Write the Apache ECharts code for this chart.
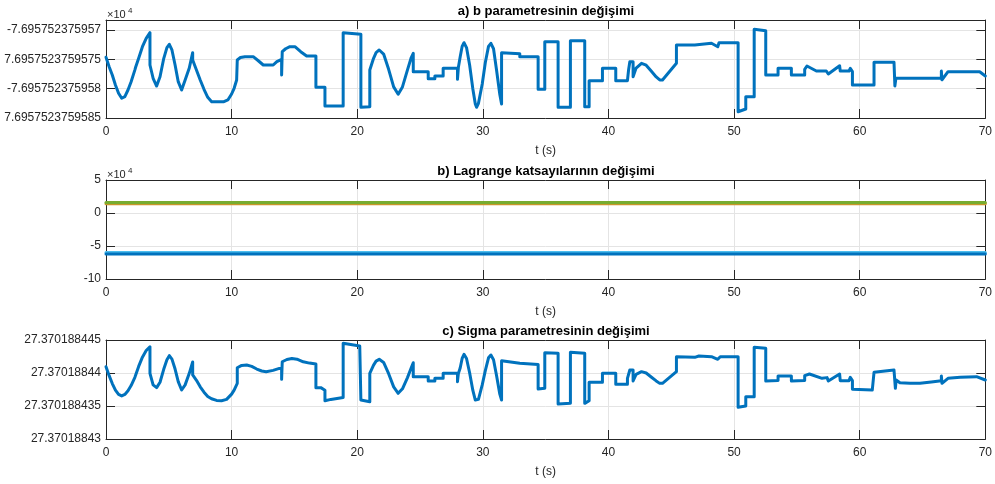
<!DOCTYPE html>
<html><head><meta charset="utf-8">
<script src="https://cdn.jsdelivr.net/npm/echarts@6/dist/echarts.min.js"></script>
<style>html,body{margin:0;padding:0;background:#fff}#c{width:995px;height:484px}</style>
</head><body><div id="c"></div>
<script>
// ---- Data ----
const timeRange = [0, 70];
const timeTickStep = 10;

// a) b parameter: offsets in units of 1e-6 above -7.6957523759585e4
const bParamTickLabels = ['7.6957523759585', '-7.695752375958', '7.6957523759575', '-7.695752375957'];
const bParamSeries = [
  [0,10.35],[0.25,8.74],[0.5,7.33],[0.75,5.62],[1.0,4.21],[1.25,3.36],[1.5,3.63],[1.75,4.77],[2.0,6.19],[2.3,8.2],
  [2.35,8.6],[2.6,10.17],[2.9,12.15],[3.2,13.58],[3.5,14.54],[3.5,9.03],[3.75,6.77],[4.03,5.45],[4.3,7.04],[4.6,10.17],
  [4.85,11.98],[5.04,12.56],[5.25,11.59],[5.5,9.03],[5.75,6.19],[6.02,4.77],[6.3,6.48],[6.63,8.52],[6.9,11.13],[6.9,9.89],
  [7.2,8.18],[7.5,6.48],[7.8,4.89],[8.1,3.53],[8.41,2.78],[9.39,2.78],[9.7,3.07],[10.0,4.09],[10.2,5.06],[10.4,6.48],
  [10.45,9.89],[10.7,10.3],[11.06,10.45],[11.72,10.45],[12.1,9.8],[12.52,9.03],[13.31,9.03],[13.6,9.6],[13.98,10.0],[13.98,7.33],
  [14.03,11.3],[14.3,11.8],[14.64,12.15],[15.04,12.15],[15.5,11.3],[15.97,10.57],[16.71,10.57],
  [16.71,5.23],[17.43,5.23],[17.43,2.05],[18.88,2.05],[18.88,14.54],[20.29,14.27],[20.29,1.82],[21.0,1.93],[21.0,8.18],[21.3,10.17],
  [21.5,11.13],[21.75,11.59],[22.1,10.9],[22.5,8.3],[22.9,5.3],[23.26,4.04],[23.6,5.3],[24.0,8.2],[24.3,10.3],[24.46,11.03],
  [24.46,7.89],[25.65,7.89],[25.65,6.7],[26.18,6.7],
  [26.18,7.16],[26.84,7.16],[26.84,8.47],[27.98,8.47],[27.98,6.6],[28.05,8.6],[28.2,10.5],[28.35,12.2],[28.5,12.83],[28.7,12.0],
  [28.95,9.0],[29.2,5.0],[29.4,2.4],[29.5,1.82],[29.65,2.5],[29.95,5.8],[30.2,9.5],[30.45,12.2],[30.64,12.73],[30.85,11.8],
  [31.1,8.0],[31.35,4.0],[31.49,2.39],[31.49,11.13],[32.94,10.96],[32.94,10.45],[34.4,10.45],
  [34.4,4.89],[34.93,4.89],[34.93,13.0],[35.99,13.0],[35.99,1.82],[36.97,1.82],[36.97,13.18],[38.11,13.18],[38.11,1.93],[38.46,1.93],
  [38.46,6.36],[39.52,6.36],[39.52,8.47],[40.58,8.47],[40.58,6.36],[41.51,6.36],[41.6,8.18],[41.7,9.6],[41.96,9.6],[41.96,7.04],
  [42.2,8.5],[42.63,9.32],[43.0,9.0],[43.4,8.0],[43.8,7.0],[44.08,6.48],[44.3,6.48],[45.41,9.32],[45.41,12.44],[46.87,12.44],[46.87,12.73],[48.2,12.73],
  [48.7,12.15],[48.8,12.83],[50.32,12.83],[50.32,1.07],[50.93,1.53],[50.93,3.63],[51.6,3.63],[51.6,15.12],[52.52,14.88],[52.52,7.33],
  [53.5,7.33],[53.5,8.47],[54.56,8.47],[54.56,7.33],[55.62,7.33],[55.62,8.3],[55.8,8.86],[56.55,8.01],[57.34,8.01],[57.5,7.5],
  [58.4,8.91],[58.45,8.01],[59.15,8.01],[59.25,8.47],[59.42,7.9],[59.42,5.62],[61.14,5.62],[61.14,9.49],[62.73,9.49],[62.8,5.45],
  [62.88,6.77],[66.5,6.77],[66.5,8.0],[66.55,6.5],[67.03,7.89],[69.55,7.89],[70,7.16]
];

// b) Lagrange multipliers (x 10^4)
const lagrangeTickValues = [-10, -5, 0, 5];
const lagrangeBlue = [[0,-6.2],[70,-6.2]];
const lagrangeCyan = [[0,-6.0],[70,-6.0]];
const lagrangeYellow = [[0,1.42],[70,1.42]];
const lagrangeGreen = [[0,1.6],[70,1.6]];

// c) Sigma parameter: offsets in units of 1e-9 above 27.37018843
const sigmaTickLabels = ['27.37018843', '27.370188435', '27.37018844', '27.370188445'];
const sigmaSeries = [
  [0,10.95],[0.25,9.6],[0.5,8.4],[0.75,7.4],[1.0,6.75],[1.25,6.52],[1.5,6.75],[1.75,7.3],[2.0,8.1],[2.3,9.35],
  [2.35,9.6],[2.6,11.0],[2.9,12.4],[3.2,13.4],[3.5,13.98],[3.5,9.95],[3.75,8.2],[4.03,7.78],[4.3,8.6],[4.6,10.6],
  [4.85,12.0],[5.04,12.63],[5.25,12.1],[5.5,10.6],[5.75,8.7],[6.02,7.42],[6.3,8.2],[6.63,9.95],[6.9,11.67],[6.9,9.7],
  [7.2,8.9],[7.5,7.9],[7.8,7.1],[8.1,6.45],[8.4,6.1],[8.8,5.85],[9.2,5.8],[9.6,6.0],[10.0,6.8],[10.2,7.4],
  [10.45,8.43],[10.45,10.8],[10.8,11.15],[11.2,11.21],[11.6,11.0],[12.0,10.6],[12.4,10.3],[12.75,10.2],[13.3,10.4],[13.8,10.7],
  [13.98,10.7],[13.98,9.04],[14.03,11.7],[14.4,12.05],[14.8,12.2],[15.2,12.1],[15.7,11.7],[16.2,11.5],[16.71,11.36],[16.71,7.78],
  [17.1,7.78],[17.43,7.4],[17.43,5.8],[17.9,6.0],[18.88,6.3],[18.88,14.5],[20.2,14.1],[20.29,5.9],[21.0,5.65],[21.0,9.95],
  [21.3,11.2],[21.5,11.8],[21.75,12.07],[22.1,11.6],[22.5,9.9],[22.9,7.9],[23.26,6.92],[23.6,7.6],[24.0,9.3],[24.3,10.8],
  [24.46,11.56],[24.46,9.44],[25.65,9.44],[25.65,8.79],[26.18,8.79],
  [26.18,9.19],[26.84,9.19],[26.84,9.95],[27.98,9.95],[27.98,8.68],[28.05,9.9],[28.2,10.8],[28.35,12.2],[28.5,12.83],[28.7,12.2],
  [28.95,10.0],[29.2,7.4],[29.4,5.9],[29.5,5.65],[29.65,6.0],[29.95,8.2],[30.2,10.4],[30.45,12.3],[30.64,12.73],[30.85,12.0],
  [31.1,9.5],[31.35,6.8],[31.49,5.9],[31.49,11.87],[32.94,11.47],[34.4,11.3],[34.4,7.58],
  [34.93,7.7],[34.93,13.08],[35.99,13.0],[35.99,5.3],[36.97,5.4],[36.97,13.13],[38.11,13.0],[38.11,5.4],[38.46,5.8],[38.46,8.59],
  [39.52,8.59],[39.52,9.95],[40.58,9.95],[40.58,8.28],[41.51,8.28],[41.51,9.19],[41.7,10.45],[41.96,10.45],[41.96,8.79],[42.2,9.8],
  [42.63,10.2],[43.0,10.0],[43.4,9.4],[43.8,8.8],[44.08,8.43],[44.3,8.43],[45.41,10.2],[45.41,12.47],[46.87,12.37],[47.2,12.58],[48.2,12.47],[48.7,12.07],
  [48.9,12.47],[50.32,12.47],[50.32,4.8],[50.93,5.0],[50.93,6.4],[51.6,6.4],[51.6,13.89],[52.52,13.74],[52.52,8.79],[53.5,8.85],
  [53.5,9.55],[54.56,9.55],[54.56,8.79],[55.62,8.85],[55.62,9.6],[56.0,9.85],[57.0,9.19],[57.4,9.3],[57.5,8.79],[58.4,9.85],
  [58.45,8.84],[59.15,8.84],[59.25,9.34],[59.42,8.84],[59.42,7.53],[61.0,7.42],[61.14,10.1],[62.73,10.45],[62.84,7.68],[62.9,8.94],
  [63.2,8.53],[64.0,8.43],[64.8,8.43],[65.7,8.65],[66.5,8.84],[66.5,9.55],[66.55,8.43],[67.03,9.19],[68.0,9.34],[69.3,9.44],[70,8.94]
];

const titles = ['a) b parametresinin değişimi', 'b) Lagrange katsayılarının değişimi', 'c) Sigma parametresinin değişimi'];
const xAxisName = 't (s)';

// ---- Chart ----
const FONT = '"Liberation Sans", Arial, Helvetica, sans-serif';
const AX = '#262626';
const GRIDC = '#e4e4e4';
const grids = [
  {left: 106, top: 20, width: 880, height: 98},
  {left: 106, top: 180, width: 880, height: 99},
  {left: 106, top: 340, width: 880, height: 99}
];

function labelFrom(arr, step) {
  return function (v) {
    const i = Math.round(v / step);
    return (Math.abs(v - i * step) < 1e-6 && arr[i] !== undefined) ? arr[i] : '';
  };
}

const xAxes = [], yAxes = [];
const yDefs = [
  {min: 0, max: 16.7, fmt: labelFrom(bParamTickLabels, 5)},
  {min: -10, max: 5, fmt: function (v) { return lagrangeTickValues.indexOf(v) >= 0 ? String(v) : ''; }},
  {min: 0, max: 15, fmt: labelFrom(sigmaTickLabels, 5)}
];
grids.forEach(function (g, i) {
  const common = {
    type: 'value', gridIndex: i, min: timeRange[0], max: timeRange[1], interval: timeTickStep,
    axisLine: {show: true, onZero: false, lineStyle: {color: AX, width: 1}},
    axisTick: {show: true, inside: true, length: 9, lineStyle: {color: AX}}
  };
  xAxes.push(Object.assign({}, common, {
    position: 'bottom',
    axisLabel: {color: AX, fontSize: 12, fontFamily: FONT, margin: 8},
    splitLine: {show: true, lineStyle: {color: GRIDC, width: 1}},
    name: xAxisName, nameLocation: 'middle', nameGap: 27,
    nameTextStyle: {color: AX, fontSize: 12, fontFamily: FONT}
  }));
  xAxes.push(Object.assign({}, common, {
    position: 'top', axisLabel: {show: false}, splitLine: {show: false}
  }));
  const yc = {
    type: 'value', gridIndex: i, min: yDefs[i].min, max: yDefs[i].max, interval: 5,
    axisLine: {show: true, onZero: false, lineStyle: {color: AX, width: 1}},
    axisTick: {show: true, inside: true, length: 9, lineStyle: {color: AX}}
  };
  yAxes.push(Object.assign({}, yc, {
    position: 'left',
    axisLabel: {color: AX, fontSize: 12, fontFamily: FONT, margin: 5, formatter: yDefs[i].fmt, showMaxLabel: true},
    splitLine: {show: true, lineStyle: {color: GRIDC, width: 1}}
  }));
  yAxes.push(Object.assign({}, yc, {
    position: 'right', axisLabel: {show: false}, splitLine: {show: false}
  }));
});

function lineSeries(data, grid, color, width) {
  return {
    type: 'line', data: data, xAxisIndex: grid * 2, yAxisIndex: grid * 2,
    showSymbol: false, symbol: 'none', animation: false, z: 3,
    lineStyle: {color: color, width: width, cap: 'round', join: 'round'}
  };
}

const series = [
  lineSeries(bParamSeries, 0, '#0072BD', 3),
  lineSeries(lagrangeCyan, 1, '#4DBEEE', 3),
  lineSeries(lagrangeBlue, 1, '#0072BD', 3),
  lineSeries(lagrangeYellow, 1, '#C9962A', 3),
  lineSeries(lagrangeGreen, 1, '#77AC30', 3),
  lineSeries(sigmaSeries, 2, '#0072BD', 3)
];

const graphic = [];
titles.forEach(function (t, i) {
  graphic.push({type: 'text', x: 546, y: grids[i].top - 9, z: 10,
    style: {text: t, font: 'bold 13px ' + FONT, fill: '#000', align: 'center', verticalAlign: 'middle', textAlign: 'center', textVerticalAlign: 'middle'}});
});
[0, 1].forEach(function (i) {
  graphic.push({type: 'text', x: 107, y: grids[i].top - 5, z: 10,
    style: {text: '×10', font: '11px ' + FONT, fill: AX, align: 'left', verticalAlign: 'middle', textAlign: 'left', textVerticalAlign: 'middle'}});
  graphic.push({type: 'text', x: 128, y: grids[i].top - 9, z: 10,
    style: {text: '4', font: '8px ' + FONT, fill: AX, align: 'left', verticalAlign: 'middle', textAlign: 'left', textVerticalAlign: 'middle'}});
});

const chart = echarts.init(document.getElementById('c'), null, {renderer: 'canvas'});
chart.setOption({
  animation: false,
  backgroundColor: '#fff',
  grid: grids,
  xAxis: xAxes,
  yAxis: yAxes,
  series: series,
  graphic: graphic
});
</script></body></html>
